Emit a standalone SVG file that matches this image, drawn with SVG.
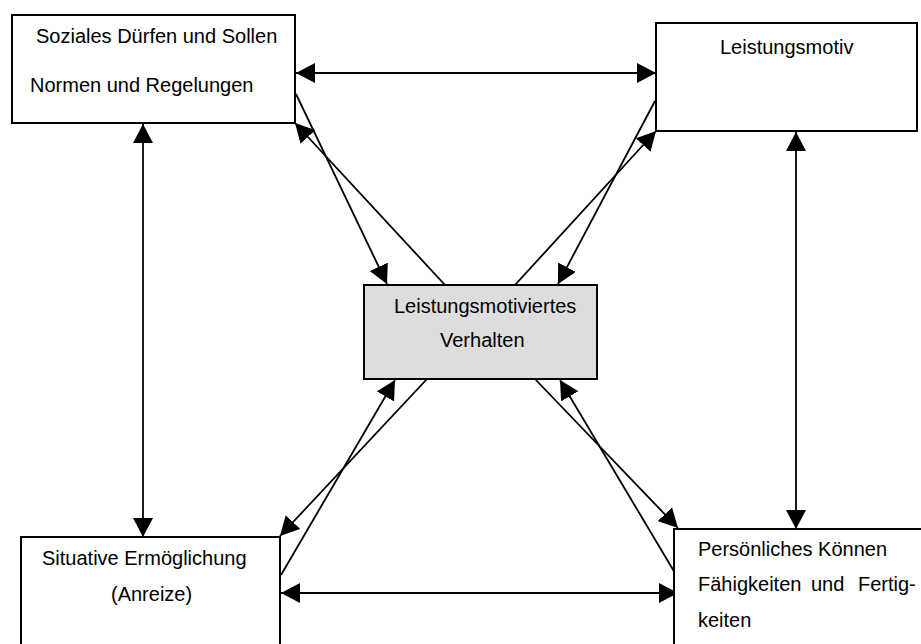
<svg xmlns="http://www.w3.org/2000/svg" width="921" height="644" viewBox="0 0 921 644">
  <style>
    .box { fill: #ffffff; stroke: #000000; stroke-width: 2; }
    .center { fill: #dddddd; stroke: #000000; stroke-width: 2; }
    .lbl { font-family: "Liberation Sans", Arial, sans-serif; font-size: 20px; fill: #000000; }
    .con { stroke: #000000; stroke-width: 1.8; fill: none; }
    .one { marker-end: url(#ah); }
    .two { marker-start: url(#ah); marker-end: url(#ah); }
  </style>
  <defs>
    <marker id="ah" markerUnits="userSpaceOnUse" markerWidth="19" markerHeight="20" refX="19" refY="10" orient="auto-start-reverse" viewBox="0 0 19 20">
      <path d="M0,0 L19,10 L0,20 Z" fill="#000000"/>
    </marker>
  </defs>
  <rect width="921" height="644" fill="#ffffff"/>

  <g id="connectors">
    <line class="con two" x1="296" y1="73" x2="656" y2="73"/>
    <line class="con two" x1="281" y1="593" x2="678" y2="593"/>
    <line class="con two" x1="143" y1="124" x2="143" y2="537"/>
    <line class="con two" x1="796" y1="132" x2="796" y2="529"/>
    <line class="con one" x1="296" y1="94" x2="387" y2="284"/>
    <line class="con one" x1="445" y1="285" x2="295" y2="123"/>
    <line class="con one" x1="655" y1="101" x2="558" y2="284"/>
    <line class="con one" x1="515" y1="285" x2="656" y2="131"/>
    <line class="con one" x1="427" y1="379" x2="280" y2="536"/>
    <line class="con one" x1="281" y1="575" x2="395" y2="380"/>
    <line class="con one" x1="535" y1="379" x2="678" y2="528"/>
    <line class="con one" x1="675" y1="573" x2="560" y2="380"/>
  </g>

  <g id="node-soziales">
    <rect class="box" x="12" y="15" width="283" height="108"/>
    <text class="lbl" x="36" y="43">Soziales Dürfen und Sollen</text>
    <text class="lbl" x="30" y="92">Normen und Regelungen</text>
  </g>

  <g id="node-leistungsmotiv">
    <rect class="box" x="656" y="23" width="261" height="108"/>
    <text class="lbl" x="720" y="54">Leistungsmotiv</text>
  </g>

  <g id="node-verhalten">
    <rect class="center" x="364" y="285" width="233" height="94"/>
    <text class="lbl" x="394" y="313">Leistungsmotiviertes</text>
    <text class="lbl" x="440" y="347">Verhalten</text>
  </g>

  <g id="node-situative">
    <rect class="box" x="21" y="537" width="259" height="120"/>
    <text class="lbl" x="42" y="565">Situative Ermöglichung</text>
    <text class="lbl" x="111" y="601">(Anreize)</text>
  </g>

  <g id="node-koennen">
    <rect class="box" x="674" y="529" width="260" height="130"/>
    <text class="lbl" x="698" y="556">Persönliches Können</text>
    <text class="lbl" y="591"><tspan x="698">Fähigkeiten</tspan><tspan x="811">und</tspan><tspan x="858">Fertig-</tspan></text>
    <text class="lbl" x="698" y="627">keiten</text>
  </g>
</svg>
